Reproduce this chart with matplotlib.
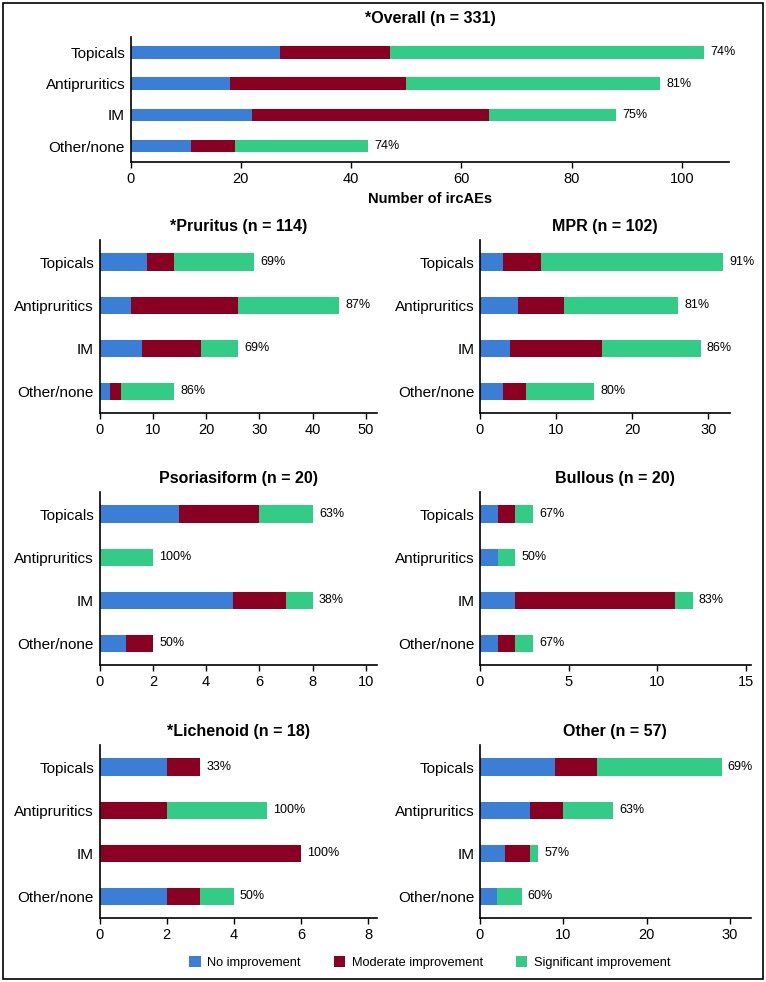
import numpy as np
import matplotlib
matplotlib.use("Agg")
import matplotlib.pyplot as plt
from matplotlib.patches import Patch, Rectangle

plt.rcParams['font.family'] = ['Liberation Sans', 'DejaVu Sans']

# Treatment categories (top to bottom)
categories = ['Topicals', 'Antipruritics', 'IM', 'Other/none']
series_names = ['No improvement', 'Moderate improvement', 'Significant improvement']
colors = ['#3a7fd5', '#8a0022', '#33cc86']

# counts per panel: [no, moderate, significant] for each category
overall_no = [27, 18, 22, 11]
overall_mod = [20, 32, 43, 8]
overall_sig = [57, 46, 23, 24]
overall_pct = ['74%', '81%', '75%', '74%']

pruritus_no = [9, 6, 8, 2]
pruritus_mod = [5, 20, 11, 2]
pruritus_sig = [15, 19, 7, 10]
pruritus_pct = ['69%', '87%', '69%', '86%']

mpr_no = [3, 5, 4, 3]
mpr_mod = [5, 6, 12, 3]
mpr_sig = [24, 15, 13, 9]
mpr_pct = ['91%', '81%', '86%', '80%']

psor_no = [3, 0, 5, 1]
psor_mod = [3, 0, 2, 1]
psor_sig = [2, 2, 1, 0]
psor_pct = ['63%', '100%', '38%', '50%']

bullous_no = [1, 1, 2, 1]
bullous_mod = [1, 0, 9, 1]
bullous_sig = [1, 1, 1, 1]
bullous_pct = ['67%', '50%', '83%', '67%']

lich_no = [2, 0, 0, 2]
lich_mod = [1, 2, 6, 1]
lich_sig = [0, 3, 0, 1]
lich_pct = ['33%', '100%', '100%', '50%']

other_no = [9, 6, 3, 2]
other_mod = [5, 4, 3, 0]
other_sig = [15, 6, 1, 3]
other_pct = ['69%', '63%', '57%', '60%']


def draw_panel(ax, no, mod, sig, pct, title, xmax, ticks, title_pad=7):
    y = np.arange(len(categories))
    no = np.array(no)
    mod = np.array(mod)
    sig = np.array(sig)
    h = 0.4
    ax.barh(y, no, height=h, color=colors[0], linewidth=0)
    ax.barh(y, mod, left=no, height=h, color=colors[1], linewidth=0)
    ax.barh(y, sig, left=no + mod, height=h, color=colors[2], linewidth=0)
    total = no + mod + sig
    for yi, t, p in zip(y, total, pct):
        ax.annotate(p, (t, yi), xytext=(4.5, 0), textcoords='offset points',
                    va='center', ha='left', fontsize=9)
    ax.set_yticks(y)
    ax.set_yticklabels(categories, fontsize=11)
    ax.set_ylim(3.5, -0.5)
    ax.set_xlim(0, xmax)
    ax.set_xticks(ticks)
    ax.tick_params(axis='x', labelsize=10.5, length=4, width=1)
    ax.tick_params(axis='y', length=0, pad=4)
    for s in ['top', 'right']:
        ax.spines[s].set_visible(False)
    for s in ['left', 'bottom']:
        ax.spines[s].set_linewidth(1.2)
    ax.set_title(title, fontsize=11.5, fontweight='bold', pad=title_pad)


fig = plt.figure(figsize=(7.66, 9.82), dpi=100)

ax0 = fig.add_axes([0.1706, 0.8353, 0.7815, 0.1273])
draw_panel(ax0, overall_no, overall_mod, overall_sig, overall_pct,
           '*Overall (n = 331)', 108.6, [0, 20, 40, 60, 80, 100], title_pad=10)
ax0.set_xlabel('Number of ircAEs', fontsize=10.5, fontweight='bold', labelpad=4)

lx, lw = 0.1299, 0.3623
rx = 0.6266
rows = [0.5794, 0.3228, 0.0652]
ht = 0.1757

ax1 = fig.add_axes([lx, rows[0], lw, ht])
draw_panel(ax1, pruritus_no, pruritus_mod, pruritus_sig, pruritus_pct,
           '*Pruritus (n = 114)', 52.07, [0, 10, 20, 30, 40, 50])
ax2 = fig.add_axes([rx, rows[0], 0.3264, ht])
draw_panel(ax2, mpr_no, mpr_mod, mpr_sig, mpr_pct,
           'MPR (n = 102)', 32.86, [0, 10, 20, 30])
ax3 = fig.add_axes([lx, rows[1], lw, ht])
draw_panel(ax3, psor_no, psor_mod, psor_sig, psor_pct,
           'Psoriasiform (n = 20)', 10.41, [0, 2, 4, 6, 8, 10])
ax4 = fig.add_axes([rx, rows[1], 0.3534, ht])
draw_panel(ax4, bullous_no, bullous_mod, bullous_sig, bullous_pct,
           'Bullous (n = 20)', 15.28, [0, 5, 10, 15])
ax5 = fig.add_axes([lx, rows[2], lw, ht])
draw_panel(ax5, lich_no, lich_mod, lich_sig, lich_pct,
           '*Lichenoid (n = 18)', 8.27, [0, 2, 4, 6, 8])
ax6 = fig.add_axes([rx, rows[2], 0.3534, ht])
draw_panel(ax6, other_no, other_mod, other_sig, other_pct,
           'Other (n = 57)', 32.5, [0, 10, 20, 30])

handles = [Patch(facecolor=c, edgecolor='none') for c in colors]
fig.legend(handles, series_names, loc='center', bbox_to_anchor=(0.561, 0.0197),
           ncol=3, frameon=False, fontsize=9.2, handlelength=0.9, handleheight=0.9,
           handletextpad=0.5, columnspacing=2.6)

# outer frame
fig.patches.append(Rectangle((0.004, 0.003), 0.992, 0.994, transform=fig.transFigure,
                             fill=False, edgecolor='black', linewidth=1.2))

fig.savefig('out.png', dpi=100)
